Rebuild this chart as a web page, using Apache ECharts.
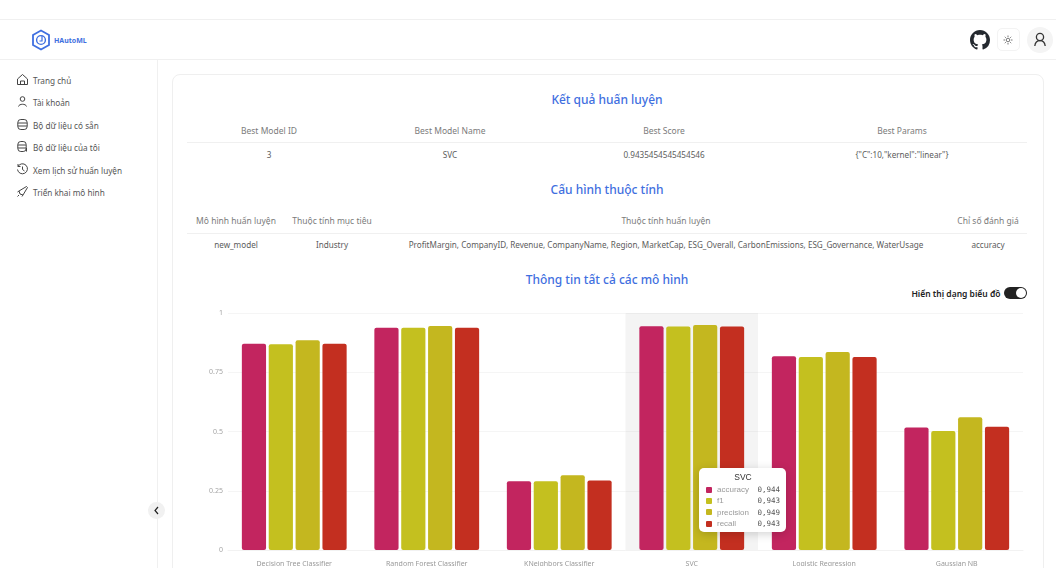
<!DOCTYPE html>
<html>
<head>
<meta charset="utf-8">
<script src="https://cdn.jsdelivr.net/npm/echarts@6/dist/echarts.min.js"></script>
<style>
    html, body { margin: 0; padding: 0; background: #fff; overflow: hidden; }
    body { width: 1056px; height: 580px; position: relative; font-family: "Noto Sans", sans-serif; color: #555; }
    .t { position: absolute; white-space: nowrap; transform: translate(-50%, -50%); font-size: 8.15px; color: #5c5c5c; }
    .l { position: absolute; white-space: nowrap; transform: translateY(-50%); font-size: 8.2px; color: #555; left: 33px; }
    .h { position: absolute; white-space: nowrap; transform: translate(-50%, -50%); font-size: 12px; font-weight: 500; color: #3f6fe0; }
    .th { color: #7b7b7b; font-size: 8.5px; }
    .line { position: absolute; background: #f0f0f0; }
    svg { position: absolute; }
    #card { position: absolute; left: 172px; top: 74px; width: 870px; height: 520px; border: 1px solid #efefef; border-radius: 8px; }
    #chartClip { position: absolute; left: 173px; top: 305px; width: 869px; height: 261px; overflow: hidden; }
    #mychart { width: 869px; height: 300px; }
    #foot { position: absolute; left: 0; top: 568px; width: 1056px; height: 12px; background: #fff; }
</style>
</head>
<body>
<div class="line" style="left:0;top:19px;width:1056px;height:1px"></div>
<div class="line" style="left:0;top:59px;width:1056px;height:1px"></div>
<div class="line" style="left:157px;top:60px;width:1px;height:508px"></div>
<div id="card"></div>
<div id="foot"></div>

<!-- logo -->
<svg style="left:31px;top:29px" width="20" height="22" viewBox="0 0 20 22" fill="none" stroke="#3f6fe0">
    <path d="M10 1.5 L18 6 V16 L10 20.5 L2 16 V6 Z" stroke-width="1.8"/>
    <circle cx="10" cy="11" r="4.4" stroke-width="1.4"/>
    <path d="M11 7 V12 H8.5" stroke-width="1.2"/>
</svg>
<div style="position:absolute;left:54px;top:40px;transform:translateY(-50%);font-size:7px;font-weight:700;color:#3f6fe0">HAutoML</div>

<!-- header icons -->
<svg style="left:970px;top:30px" width="20" height="20" viewBox="0 0 16 16" fill="#24292f">
    <path d="M8 0C3.58 0 0 3.58 0 8c0 3.54 2.29 6.53 5.47 7.59.4.07.55-.17.55-.38 0-.19-.01-.82-.01-1.49-2.01.37-2.53-.49-2.69-.94-.09-.23-.48-.94-.82-1.13-.28-.15-.68-.52-.01-.53.63-.01 1.08.58 1.23.82.72 1.21 1.87.87 2.33.66.07-.52.28-.87.51-1.07-1.78-.2-3.64-.89-3.64-3.95 0-.87.31-1.59.82-2.15-.08-.2-.36-1.02.08-2.12 0 0 .67-.21 2.2.82.64-.18 1.32-.27 2-.27s1.36.09 2 .27c1.53-1.04 2.2-.82 2.2-.82.44 1.1.16 1.92.08 2.12.51.56.82 1.27.82 2.15 0 3.07-1.87 3.75-3.65 3.95.29.25.54.73.54 1.48 0 1.07-.01 1.93-.01 2.2 0 .21.15.46.55.38A8.013 8.013 0 0016 8c0-4.42-3.58-8-8-8z"/>
</svg>
<div style="position:absolute;left:997px;top:28px;width:23px;height:23px;border:1px solid #f3f3f3;border-radius:5px;box-sizing:border-box"></div>
<svg style="left:1003px;top:35px" width="10" height="10" viewBox="0 0 10 10" fill="none" stroke="#555" stroke-width=".8">
    <circle cx="5" cy="5" r="1.8"/>
    <path d="M5 .5V2M5 8V9.5M.5 5H2M8 5H9.5M1.8 1.8L2.8 2.8M7.2 7.2L8.2 8.2M1.8 8.2L2.8 7.2M7.2 2.8L8.2 1.8"/>
</svg>
<div style="position:absolute;left:1027px;top:27px;width:26px;height:26px;border-radius:50%;background:#f4f4f4"></div>
<svg style="left:1033px;top:32px" width="14" height="15" viewBox="0 0 14 15" fill="none" stroke="#333" stroke-width="1.3">
    <circle cx="7" cy="5" r="3.6"/>
    <path d="M1.8 14 C2.2 10.4 4.4 8.7 7 8.7 S11.8 10.4 12.2 14"/>
</svg>

<!-- sidebar icons -->
<svg style="left:16px;top:73px" width="13" height="13" viewBox="0 0 13 13" fill="none" stroke="#444"><path d="M1.5 6 L6.5 1.5 L11.5 6 V11.5 H1.5 Z M4.5 11.5 V8 H8.5 V11.5"/></svg>
<svg style="left:16px;top:95px" width="13" height="13" viewBox="0 0 13 13" fill="none" stroke="#444"><circle cx="6.5" cy="4" r="2.3"/><path d="M2.5 11.5 C3 8.5 10 8.5 10.5 11.5"/></svg>
<svg style="left:16px;top:118px" width="13" height="13" viewBox="0 0 13 13" fill="none" stroke="#444"><rect x="1.8" y="1.5" width="9.4" height="10" rx="3"/><path d="M1.8 5 H11.2 M1.8 8 H11.2"/></svg>
<svg style="left:16px;top:140px" width="13" height="13" viewBox="0 0 13 13" fill="none" stroke="#444"><rect x="1.8" y="1.5" width="8.4" height="10" rx="3"/><path d="M1.8 5 H10 M1.8 8 H10 M10.5 8 V11.5"/></svg>
<svg style="left:16px;top:163px" width="13" height="13" viewBox="0 0 13 13" fill="none" stroke="#444"><path d="M2 3.5 A5 5 0 1 1 1.5 6.5 M2 1 V3.5 H4.5 M6.5 3.5 V6.5 L8.5 8"/></svg>
<svg style="left:16px;top:185px" width="13" height="13" viewBox="0 0 13 13" fill="none" stroke="#444"><path d="M4 9 L3 6 L10.5 1.5 L11.5 2.5 L7 10 Z M3 6 L1.5 7 M7 10 L6 11.5 M3 10 L1.5 11.5"/></svg>

<!-- collapse button -->
<div style="position:absolute;left:148px;top:502px;width:17px;height:17px;border-radius:50%;background:#f1f1f1"></div>
<svg style="left:153px;top:506px" width="7" height="9" viewBox="0 0 7 9" fill="none" stroke="#222" stroke-width="1.2"><path d="M5 1 L2 4.5 L5 8"/></svg>

<!-- toggle -->
<div style="position:absolute;left:1004px;top:287px;width:23px;height:12px;border-radius:6px;background:#222"></div>
<div style="position:absolute;left:1016px;top:288px;width:10px;height:10px;border-radius:50%;background:#fff"></div>

<div id="chrome"></div>
<div id="chartClip"><div id="mychart"></div></div>

<script>
var categories = ['Decision Tree Classifier', 'Random Forest Classifier', 'KNeighbors Classifier', 'SVC', 'Logistic Regression', 'Gaussian NB'];
var accuracy = [0.87, 0.938, 0.29, 0.944, 0.817, 0.517];
var f1 = [0.868, 0.938, 0.29, 0.943, 0.814, 0.502];
var precision = [0.885, 0.945, 0.315, 0.949, 0.835, 0.56];
var recall = [0.87, 0.938, 0.293, 0.943, 0.814, 0.52];
var metricNames = ['accuracy', 'f1', 'precision', 'recall'];
var metricColors = ['#c2255f', '#c4c01f', '#c4b71f', '#c32f20'];
var yTicks = { min: 0, max: 1, interval: 0.25 };

var menuItems = ['Trang chủ', 'Tài khoản', 'Bộ dữ liệu có sẵn', 'Bộ dữ liệu của tôi', 'Xem lịch sử huấn luyện', 'Triển khai mô hình'];
var menuY = [80, 102, 125, 147, 170, 192];
var headings = [['Kết quả huấn luyện', 99], ['Cấu hình thuộc tính', 189], ['Thông tin tất cả các mô hình', 279]];
var table1 = [['Best Model ID', 'Best Model Name', 'Best Score', 'Best Params'], ['3', 'SVC', '0.9435454545454546', '{"C":10,"kernel":"linear"}']];
var table1X = [269, 450, 664, 902];
var table2 = [['Mô hình huấn luyện', 'Thuộc tính mục tiêu', 'Thuộc tính huấn luyện', 'Chỉ số đánh giá'],
    ['new_model', 'Industry', 'ProfitMargin, CompanyID, Revenue, CompanyName, Region, MarketCap, ESG_Overall, CarbonEmissions, ESG_Governance, WaterUsage', 'accuracy']];
var table2X = [236, 332, 666, 988];

// page around the chart
var chrome = document.getElementById('chrome');

function addText(cls, text, x, y) {
    var el = document.createElement('div');
    el.className = cls;
    el.textContent = text;
    if (x !== null) el.style.left = x + 'px';
    el.style.top = y + 'px';
    chrome.appendChild(el);
    return el;
}

function addTable(rows, xs, headY, rowY, lineY) {
    xs.forEach(function (x, i) {
        addText('t th', rows[0][i], x, headY);
        addText('t', rows[1][i], x, rowY);
    });
    var line = document.createElement('div');
    line.className = 'line';
    line.style.cssText = 'left:187px;width:840px;height:1px;top:' + lineY + 'px';
    chrome.appendChild(line);
}

menuItems.forEach(function (m, i) { addText('l', m, null, menuY[i]); });
headings.forEach(function (h) { addText('h', h[0], 607, h[1]); });
addTable(table1, table1X, 130, 154, 142);
addTable(table2, table2X, 220, 244, 233);
var sw = addText('t', 'Hiển thị dạng biểu đồ', 956, 293);
sw.style.cssText += ';font-size:8.5px;font-weight:600;color:#222';

function tipFormatter(params) {
    var html = '<div style="text-align:center;font-size:8.5px;font-weight:500;color:#333;line-height:12px;margin-bottom:1px">' + params[0].name + '</div>';
    params.forEach(function (p) {
        html += '<div style="display:flex;align-items:center;height:11.3px;font-size:8px">'
            + '<span style="width:6px;height:6px;border-radius:1px;margin-right:5px;background:' + p.color + '"></span>'
            + '<span style="flex:1;color:#9a9a9a">' + p.seriesName + '</span>'
            + '<span style="font-family:\'DejaVu Sans Mono\',monospace;font-size:7.5px;color:#555">' + p.value.toFixed(3).replace('.', ',') + '</span></div>';
    });
    return html;
}

var values = [accuracy, f1, precision, recall];

var option = {
    animation: false,
    grid: { left: 55, right: 19, top: 8, height: 237 },
    tooltip: {
        trigger: 'axis',
        axisPointer: { type: 'shadow', z: 1, shadowStyle: { color: 'rgba(150,150,150,0.1)' } },
        position: [526, 163],
        alwaysShowContent: true,
        transitionDuration: 0,
        padding: [3, 6, 3, 7],
        extraCssText: 'width:74px;border:0;border-radius:5px;box-shadow:0 2px 10px rgba(0,0,0,.18);',
        formatter: tipFormatter
    },
    xAxis: {
        type: 'category',
        data: categories,
        axisTick: { show: false },
        axisLine: { lineStyle: { color: '#f2f2f2' } },
        axisLabel: { color: '#999', fontSize: 7, margin: 10, fontFamily: 'Noto Sans', interval: 0 }
    },
    yAxis: {
        type: 'value',
        min: yTicks.min,
        max: yTicks.max,
        interval: yTicks.interval,
        axisLabel: { color: '#a5a5a5', fontSize: 7, margin: 5, fontFamily: 'Noto Sans' },
        splitLine: { lineStyle: { color: '#f5f5f5' } }
    },
    series: metricNames.map(function (name, i) {
        return {
            name: name,
            type: 'bar',
            z: 2,
            data: values[i],
            barWidth: 24.2,
            barGap: '11%',
            emphasis: { disabled: true },
            itemStyle: { color: metricColors[i], borderRadius: 2 }
        };
    })
};

var mychart = echarts.init(document.getElementById('mychart'));
mychart.setOption(option);
mychart.dispatchAction({ type: 'showTip', seriesIndex: 0, dataIndex: 3 });
</script>
</body>
</html>
